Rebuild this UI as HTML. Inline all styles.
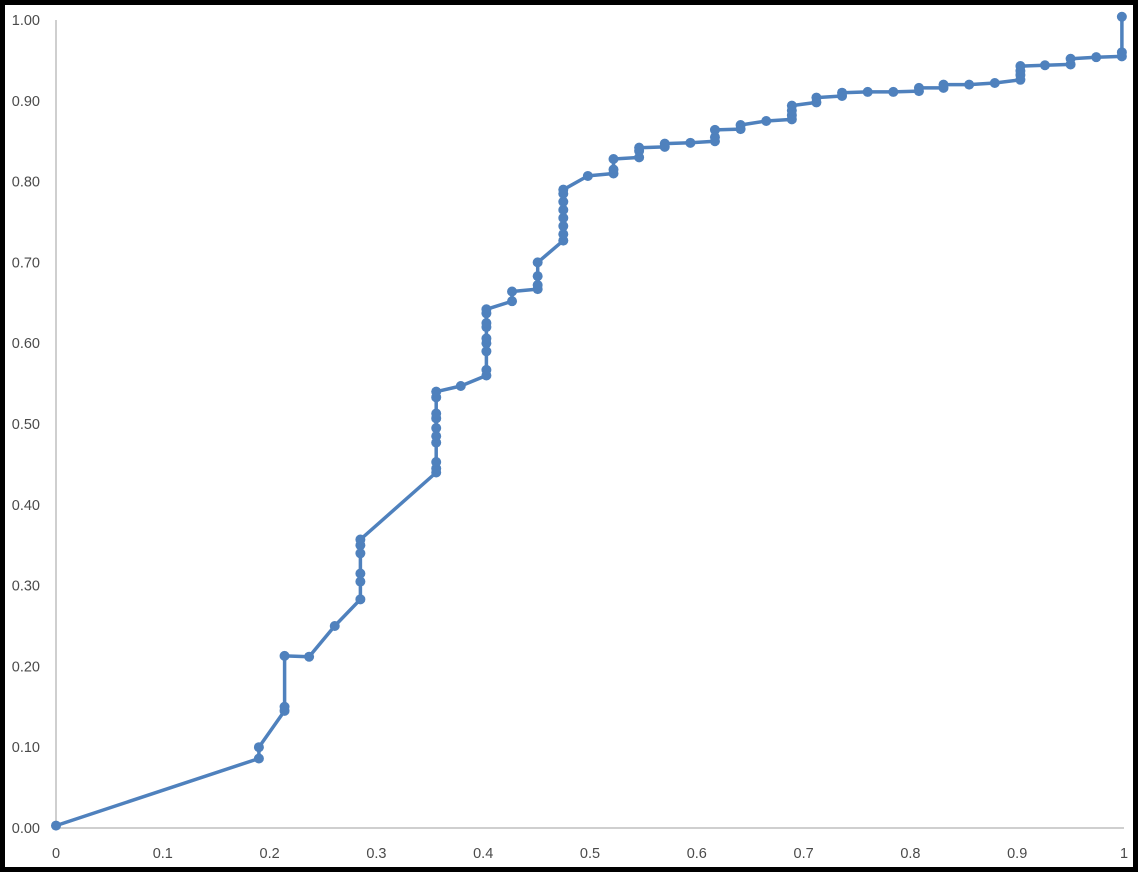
<!DOCTYPE html>
<html><head><meta charset="utf-8">
<style>
html,body{margin:0;padding:0;background:#fff;}
body{width:1144px;height:884px;position:relative;overflow:hidden;font-family:"Liberation Sans",sans-serif;}
#frame{position:absolute;left:0;top:0;width:1128px;height:862px;border:5px solid #000;background:#fff;}
</style></head>
<body>
<div id="frame"></div>
<svg id="chart" width="1144" height="884" style="position:absolute;left:0;top:0"></svg>
<script>
const xVals=[0,0.19,0.19,0.214,0.214,0.214,0.237,0.261,0.285,0.285,0.285,0.285,0.285,0.285,
0.356,0.356,0.356,0.356,0.356,0.356,0.356,0.356,0.356,0.356,0.379,
0.403,0.403,0.403,0.403,0.403,0.403,0.403,0.403,0.403,0.427,0.427,
0.451,0.451,0.451,0.451,0.475,0.475,0.475,0.475,0.475,0.475,0.475,0.475,0.498,
0.522,0.522,0.522,0.546,0.546,0.546,0.57,0.57,0.594,0.617,0.617,0.617,0.641,0.641,0.665,
0.689,0.689,0.689,0.689,0.712,0.712,0.736,0.736,0.76,0.784,0.808,0.808,0.831,0.831,0.855,0.879,
0.903,0.903,0.903,0.903,0.926,0.95,0.95,0.974,0.998,0.998,0.998];
const yVals=[0.003,0.086,0.10,0.145,0.15,0.213,0.212,0.25,0.283,0.305,0.315,0.34,0.35,0.357,
0.44,0.445,0.453,0.477,0.485,0.495,0.507,0.513,0.533,0.54,0.547,
0.56,0.567,0.59,0.6,0.606,0.62,0.625,0.637,0.642,0.652,0.664,
0.667,0.672,0.683,0.70,0.727,0.735,0.745,0.755,0.765,0.775,0.785,0.79,0.807,
0.81,0.815,0.828,0.83,0.838,0.842,0.843,0.847,0.848,0.85,0.855,0.864,0.865,0.87,0.875,
0.877,0.882,0.888,0.894,0.898,0.904,0.906,0.91,0.911,0.911,0.912,0.916,0.916,0.92,0.92,0.922,
0.926,0.932,0.937,0.943,0.944,0.945,0.952,0.954,0.955,0.96,1.004];
const xTicks=[0,0.1,0.2,0.3,0.4,0.5,0.6,0.7,0.8,0.9,1];
const xTickLabels=["0","0.1","0.2","0.3","0.4","0.5","0.6","0.7","0.8","0.9","1"];
const yTicks=[0,0.1,0.2,0.3,0.4,0.5,0.6,0.7,0.8,0.9,1];
const yTickLabels=["0.00","0.10","0.20","0.30","0.40","0.50","0.60","0.70","0.80","0.90","1.00"];

const X0=56,X1=1124,Y0=828,Y1=20;
const sx=v=>X0+v*(X1-X0);
const sy=v=>Y0-v*(Y0-Y1);
const svg=document.getElementById('chart');
const NS='http://www.w3.org/2000/svg';
function mk(tag,attrs){const e=document.createElementNS(NS,tag);for(const k in attrs)e.setAttribute(k,attrs[k]);svg.appendChild(e);return e;}

let ya=mk('line',{x1:X0,y1:Y1,x2:X0,y2:Y0,stroke:'#bfbfbf','stroke-width':1.5});


let xa=mk('line',{x1:X0,y1:Y0,x2:X1,y2:Y0,stroke:'#bfbfbf','stroke-width':1.5});



yTicks.forEach((t,i)=>{
  const e=mk('text',{x:40,y:sy(t)+5,'text-anchor':'end','font-size':14.5,fill:'#4a4a4a','font-family':'Liberation Sans, sans-serif'});
  e.textContent=yTickLabels[i];
  
  
});
xTicks.forEach((t,i)=>{
  const e=mk('text',{x:sx(t),y:858,'text-anchor':'middle','font-size':14.5,fill:'#4a4a4a','font-family':'Liberation Sans, sans-serif'});
  e.textContent=xTickLabels[i];
  
  
});

let d='';
xVals.forEach((v,i)=>{d+=(i?'L':'M')+sx(v).toFixed(1)+' '+sy(yVals[i]).toFixed(1);});
const line=mk('path',{d:d,fill:'none',stroke:'#4f81bd','stroke-width':3.5,'stroke-linejoin':'round','stroke-linecap':'round'});


xVals.forEach((v,i)=>{
  const c=mk('circle',{cx:sx(v),cy:sy(yVals[i]),r:5,fill:'#4f81bd'});
  
  
});
</script>
</body></html>
